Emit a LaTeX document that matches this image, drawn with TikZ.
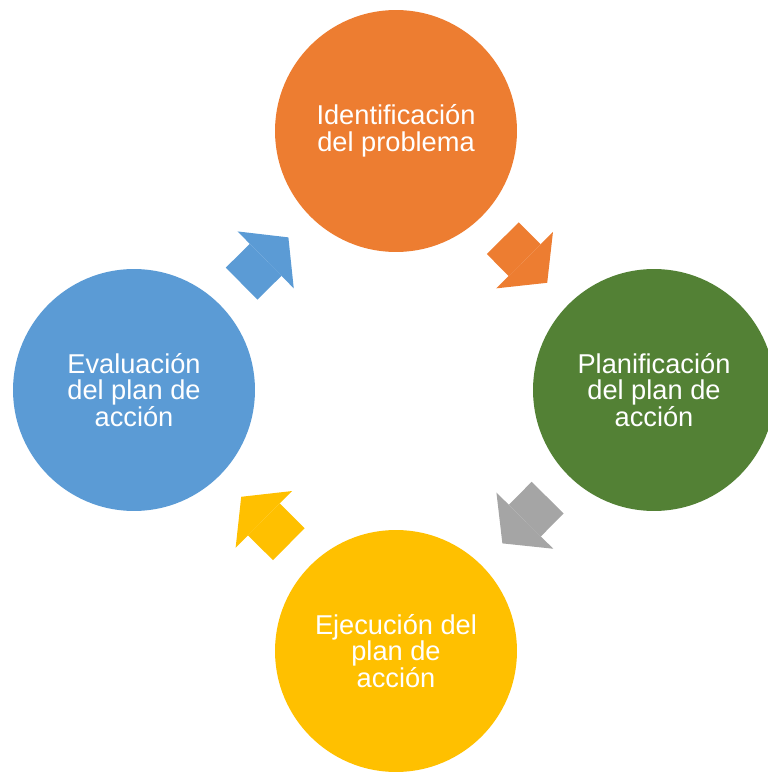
\documentclass[tikz,border=0pt]{standalone}
\usepackage{fontspec}
\setmainfont{Liberation Sans}
\usepackage{xcolor}
\usetikzlibrary{arrows.meta}

\definecolor{naranja}{HTML}{ED7D31}
\definecolor{verde}{HTML}{538135}
\definecolor{amarillo}{HTML}{FFC000}
\definecolor{azul}{HTML}{5B9BD5}
\definecolor{gris}{HTML}{A5A5A5}

\begin{document}
\begin{tikzpicture}[x=0.02cm, y=0.02cm]
        % --- estilos ---
        \tikzstyle{etapa} = [
            circle,
            minimum size=4.84cm,
            inner sep=0pt,
            align=center,
            text=white,
            font=\fontsize{15.5}{15.3}\selectfont
        ]
        \tikzstyle{flecha} = [line width=0.9cm, -{Triangle[width=1.6cm, length=0.64cm, line width=0pt]}, shorten <=0.6cm, shorten >=0.6cm]

        \clip (0,0) rectangle (768,772);

        % --- nodos (etapas) ---
        \node (ident) [etapa, fill=naranja] at (396,641) {Identificación\\del problema};
        \node (plan) [etapa, fill=verde] at (654,382) {Planificación\\del plan de\\acción};
        \node (ejec) [etapa, fill=amarillo] at (396,121) {Ejecución del\\plan de\\acción};
        \node (eval) [etapa, fill=azul] at (134,382) {Evaluación\\del plan de\\acción};

        % --- conexiones ---
        \draw [flecha, naranja] (ident) -- (plan);
        \draw [flecha, gris] (plan) -- (ejec);
        \draw [flecha, amarillo] (ejec) -- (eval);
        \draw [flecha, azul] (eval) -- (ident);
    \end{tikzpicture}
\end{document}
